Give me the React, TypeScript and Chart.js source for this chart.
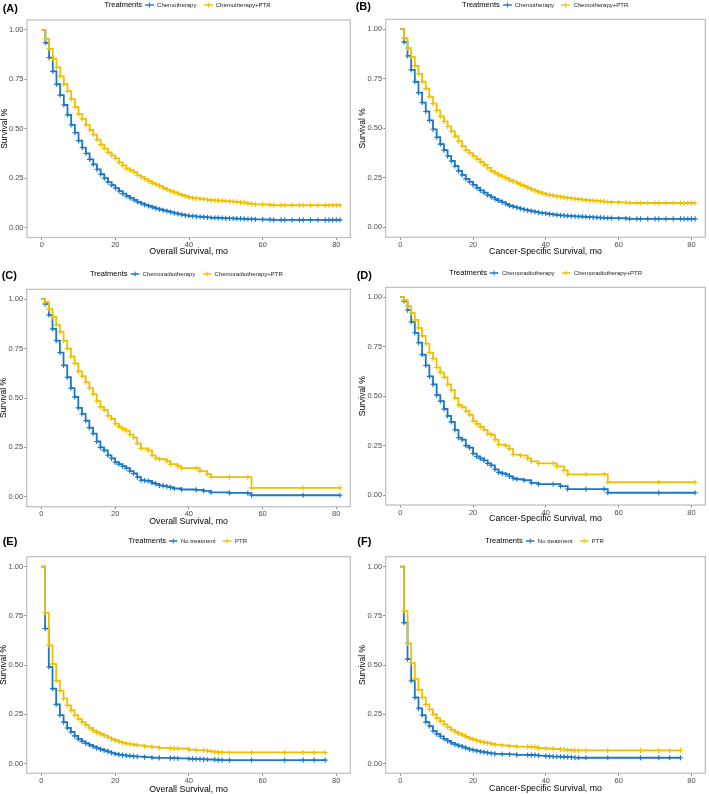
import React, { useEffect, useRef } from 'react';
import { Chart, registerables } from 'chart.js';
Chart.register(...registerables);

const FONT = "'Liberation Sans', Arial, Helvetica, sans-serif";
const BLUE = '#1a78c8';
const YELLOW = '#efc000';
const FRAME = '#bdbdbd';
const TICK = '#8a8a8a';

const xTickValues = [0, 20, 40, 60, 80];
const yTickValues = [0, 0.25, 0.5, 0.75, 1];

// ---------- (A) Overall survival: Chemotherapy vs Chemotherapy+PTR ----------
const aMonths = [0, 1, 2, 3, 4, 5, 6, 7, 8, 9, 10, 11, 12, 13, 14, 15, 16, 17, 18, 19, 20, 21, 22, 23, 24, 25, 26, 27, 28, 29, 30, 31, 32, 33, 34, 35, 36, 37, 38, 39, 40, 41, 42, 43, 44, 45, 46, 47, 48, 49, 50, 51, 52, 53, 54, 55, 56, 57, 58, 60, 62, 63, 65, 66, 68, 70, 71, 73, 75, 77, 78, 79, 80, 81];
const aChemo = [1, .935, .86, .79, .725, .67, .62, .57, .52, .48, .44, .405, .375, .345, .32, .295, .27, .25, .23, .215, .2, .185, .172, .16, .15, .14, .13, .123, .115, .11, .103, .097, .092, .087, .083, .078, .073, .069, .065, .062, .059, .058, .056, .055, .053, .052, .05, .05, .049, .048, .047, .047, .046, .045, .045, .044, .043, .043, .042, .041, .04, .039, .039, .039, .039, .039, .039, .039, .039, .039, .039, .039, .039, .039];
const aChemoPtr = [1, .955, .905, .855, .81, .765, .725, .69, .65, .61, .575, .55, .52, .495, .47, .445, .42, .4, .38, .365, .35, .33, .315, .3, .29, .28, .265, .255, .245, .235, .225, .218, .21, .2, .192, .185, .178, .17, .165, .158, .153, .15, .148, .146, .143, .141, .139, .138, .136, .135, .134, .133, .131, .13, .128, .126, .122, .12, .118, .117, .115, .113, .113, .113, .113, .113, .113, .113, .113, .113, .113, .113, .113, .113];

// ---------- (B) Cancer-specific survival: Chemotherapy vs Chemotherapy+PTR ----------
const bMonths = [0, 1, 2, 3, 4, 5, 6, 7, 8, 9, 10, 11, 12, 13, 14, 15, 16, 17, 18, 19, 20, 21, 22, 23, 24, 25, 26, 27, 28, 29, 30, 31, 32, 33, 34, 35, 36, 37, 38, 39, 40, 41, 42, 43, 44, 45, 46, 47, 48, 49, 50, 51, 52, 53, 54, 55, 56, 57, 58, 60, 62, 63, 65, 66, 68, 70, 71, 73, 75, 77, 78, 79, 80, 81];
const bChemo = [1, .935, .865, .795, .735, .68, .63, .585, .54, .495, .455, .42, .39, .36, .335, .31, .285, .265, .245, .23, .215, .2, .187, .175, .163, .153, .143, .135, .127, .118, .11, .105, .1, .095, .09, .086, .082, .078, .075, .072, .07, .067, .065, .063, .061, .059, .058, .057, .056, .055, .054, .053, .052, .051, .05, .049, .048, .047, .047, .046, .045, .043, .043, .043, .043, .043, .043, .043, .043, .043, .043, .043, .043, .043];
const bChemoPtr = [1, .955, .905, .86, .815, .775, .735, .7, .66, .625, .59, .56, .535, .51, .485, .46, .435, .41, .39, .375, .36, .345, .33, .315, .3, .285, .275, .265, .257, .248, .24, .232, .224, .216, .208, .2, .192, .185, .178, .172, .167, .163, .16, .157, .154, .151, .148, .146, .144, .142, .14, .138, .136, .135, .134, .132, .13, .128, .127, .126, .125, .123, .123, .123, .123, .123, .123, .123, .123, .123, .123, .123, .123, .123];

// ---------- (C) Overall survival: Chemoradiotherapy vs Chemoradiotherapy+PTR ----------
const cCrtMonths = [0, 1, 2, 3, 4, 5, 6, 7, 8, 9, 10, 11, 12, 13, 14, 15, 16, 17, 18, 19, 20, 21, 22, 23, 24, 25, 26, 27, 28, 29, 30, 31, 32, 33, 34, 35, 36, 38, 42, 44, 46, 51, 56, 57, 71, 81];
const cCrt = [1, .975, .92, .85, .79, .73, .665, .605, .55, .505, .45, .42, .385, .35, .32, .28, .25, .235, .21, .195, .175, .165, .155, .145, .13, .118, .1, .084, .082, .08, .07, .065, .058, .055, .052, .048, .042, .037, .035, .03, .022, .02, .018, .008, .008, .008];
const cCrtPtrMonths = [0, 1, 2, 3, 4, 5, 6, 7, 8, 9, 10, 11, 12, 13, 14, 15, 16, 17, 18, 19, 20, 21, 22, 23, 24, 25, 26, 27, 29, 30, 31, 32, 34, 35, 37, 38, 42, 43, 45, 46, 51, 56, 57, 71, 81];
const cCrtPtr = [1, .985, .95, .91, .87, .835, .79, .75, .71, .675, .635, .61, .58, .55, .52, .485, .455, .44, .41, .395, .37, .355, .345, .335, .315, .3, .27, .245, .235, .21, .195, .19, .18, .165, .155, .145, .145, .13, .115, .1, .1, .1, .045, .045, .045];

// ---------- (D) Cancer-specific survival: Chemoradiotherapy vs Chemoradiotherapy+PTR ----------
const dCrtMonths = [0, 1, 2, 3, 4, 5, 6, 7, 8, 9, 10, 11, 12, 13, 14, 15, 16, 17, 18, 19, 20, 21, 22, 23, 24, 25, 26, 27, 28, 29, 30, 31, 32, 34, 36, 38, 42, 44, 46, 51, 56, 57, 71, 81];
const dCrt = [1, .98, .935, .875, .82, .77, .71, .655, .6, .56, .505, .475, .435, .4, .37, .33, .29, .28, .25, .24, .21, .195, .185, .175, .16, .15, .13, .115, .11, .105, .095, .085, .08, .075, .062, .055, .055, .045, .03, .03, .03, .012, .012, .012];
const dCrtPtrMonths = [0, 1, 2, 3, 4, 5, 6, 7, 8, 9, 10, 11, 12, 13, 14, 15, 16, 17, 18, 19, 20, 21, 22, 23, 24, 25, 26, 27, 29, 30, 31, 33, 35, 36, 38, 42, 43, 45, 46, 51, 56, 57, 71, 81];
const dCrtPtr = [1, .985, .955, .92, .885, .845, .805, .765, .72, .69, .645, .62, .595, .56, .53, .49, .455, .445, .425, .405, .375, .36, .345, .33, .31, .305, .28, .255, .25, .235, .205, .2, .185, .17, .16, .16, .145, .125, .105, .105, .105, .065, .065, .065];

// ---------- (E) Overall survival: No treatment vs PTR ----------
const eNoTxMonths = [0, 1, 2, 3, 4, 5, 6, 7, 8, 9, 10, 11, 12, 13, 14, 15, 16, 17, 18, 19, 20, 21, 22, 23, 24, 25, 26, 28, 30, 32, 35, 36, 37, 40, 41, 42, 43, 44, 45, 47, 48, 49, 51, 57, 66, 71, 74, 77];
const eNoTx = [1, .685, .49, .38, .3, .245, .21, .18, .16, .14, .125, .112, .102, .094, .086, .078, .072, .066, .06, .054, .048, .045, .042, .04, .038, .036, .035, .032, .029, .028, .027, .027, .026, .024, .023, .022, .022, .021, .02, .019, .018, .017, .017, .017, .017, .017, .017, .017];
const ePtrMonths = [0, 1, 2, 3, 4, 5, 6, 7, 8, 9, 10, 11, 12, 13, 14, 15, 16, 17, 18, 19, 20, 21, 22, 23, 24, 25, 26, 28, 30, 32, 35, 36, 37, 40, 42, 44, 45, 46, 47, 48, 49, 51, 57, 66, 71, 74, 77];
const ePtr = [1, .765, .6, .505, .42, .37, .33, .295, .27, .245, .225, .21, .195, .18, .168, .158, .15, .142, .132, .124, .117, .11, .105, .101, .098, .095, .092, .087, .083, .079, .077, .077, .076, .07, .068, .066, .064, .061, .059, .057, .056, .056, .056, .056, .056, .056, .056];

// ---------- (F) Cancer-specific survival: No treatment vs PTR ----------
const fNoTxMonths = [0, 1, 2, 3, 4, 5, 6, 7, 8, 9, 10, 11, 12, 13, 14, 15, 16, 17, 18, 19, 20, 21, 22, 23, 24, 25, 26, 28, 30, 32, 35, 36, 37, 38, 40, 41, 42, 43, 44, 45, 46, 47, 48, 49, 51, 57, 66, 71, 74, 77];
const fNoTx = [1, .715, .53, .42, .335, .28, .245, .21, .19, .165, .15, .138, .125, .115, .105, .097, .09, .085, .078, .072, .068, .064, .06, .057, .054, .051, .049, .047, .046, .044, .043, .043, .042, .04, .037, .036, .035, .035, .034, .033, .032, .031, .03, .029, .029, .029, .029, .029, .029, .029];
const fPtrMonths = [0, 1, 2, 3, 4, 5, 6, 7, 8, 9, 10, 11, 12, 13, 14, 15, 16, 17, 18, 19, 20, 21, 22, 23, 24, 25, 26, 28, 30, 32, 35, 36, 37, 38, 40, 42, 44, 45, 46, 47, 48, 49, 51, 57, 66, 71, 74, 77];
const fPtr = [1, .775, .61, .51, .43, .375, .335, .3, .275, .25, .23, .215, .198, .185, .172, .16, .152, .145, .135, .128, .122, .116, .111, .107, .103, .099, .096, .092, .088, .085, .084, .084, .083, .078, .076, .074, .071, .07, .068, .067, .066, .066, .066, .066, .066, .066, .066, .066];

type PanelCfg = {
  tag: string;
  left: number; top: number; w: number; h: number;
  area: [number, number, number, number];
  labelX: number; labelY: number;
  legendCx: number; legendY: number;
  xTitle: string; xTitleBottom: number; yTitleLeft: number;
  baseName: string; ptrName: string;
  baseT: number[]; baseS: number[]; ptrT: number[]; ptrS: number[];
};

const OS = 'Overall Survival, mo';
const CSS = 'Cancer-Specific Survival, mo';

const panels: PanelCfg[] = [
  { tag: '(A)', left: 0, top: 0, w: 354, h: 260, area: [27, 20, 351, 237.5], labelX: 2.7, labelY: 7.5, legendCx: 187.5, legendY: 4.7, xTitle: OS, xTitleBottom: 8.3, yTitleLeft: 4.5, baseName: 'Chemotherapy', ptrName: 'Chemotherapy+PTR', baseT: aMonths, baseS: aChemo, ptrT: aMonths, ptrS: aChemoPtr },
  { tag: '(B)', left: 354, top: 0, w: 355, h: 260, area: [31.7, 19.3, 352.7, 237.3], labelX: 1.7, labelY: 5.5, legendCx: 191.2, legendY: 4.7, xTitle: CSS, xTitleBottom: 8.3, yTitleLeft: 8.3, baseName: 'Chemotherapy', ptrName: 'Chemotherapy+PTR', baseT: bMonths, baseS: bChemo, ptrT: bMonths, ptrS: bChemoPtr },
  { tag: '(C)', left: 0, top: 260, w: 354, h: 265, area: [26.7, 29.3, 351, 246.7], labelX: 1.7, labelY: 15.3, legendCx: 186.3, legendY: 14, xTitle: OS, xTitleBottom: 3.3, yTitleLeft: 3.7, baseName: 'Chemoradiotherapy', ptrName: 'Chemoradiotherapy+PTR', baseT: cCrtMonths, baseS: cCrt, ptrT: cCrtPtrMonths, ptrS: cCrtPtr },
  { tag: '(D)', left: 354, top: 260, w: 355, h: 265, area: [31.7, 27.3, 353, 245], labelX: 2.7, labelY: 15.3, legendCx: 191.7, legendY: 12.7, xTitle: CSS, xTitleBottom: 6.7, yTitleLeft: 8.7, baseName: 'Chemoradiotherapy', ptrName: 'Chemoradiotherapy+PTR', baseT: dCrtMonths, baseS: dCrt, ptrT: dCrtPtrMonths, ptrS: dCrtPtr },
  { tag: '(E)', left: 0, top: 525, w: 354, h: 269, area: [26.7, 31.7, 350.7, 248.3], labelX: 2.7, labelY: 15.7, legendCx: 187.7, legendY: 16, xTitle: OS, xTitleBottom: 4, yTitleLeft: 3.3, baseName: 'No treatment', ptrName: 'PTR', baseT: eNoTxMonths, baseS: eNoTx, ptrT: ePtrMonths, ptrS: ePtr },
  { tag: '(F)', left: 354, top: 525, w: 355, h: 269, area: [31.7, 31.7, 352.7, 248.3], labelX: 3.3, labelY: 15.7, legendCx: 190.5, legendY: 15.7, xTitle: CSS, xTitleBottom: 5.7, yTitleLeft: 8.3, baseName: 'No treatment', ptrName: 'PTR', baseT: fNoTxMonths, baseS: fNoTx, ptrT: fPtrMonths, ptrS: fPtr },
];

const framePlugin = {
  id: 'frame',
  afterDatasetsDraw(chart: any) {
    const { ctx, chartArea: a } = chart;
    ctx.save();
    ctx.strokeStyle = FRAME;
    ctx.lineWidth = 1.2;
    ctx.strokeRect(a.left, a.top, a.right - a.left, a.bottom - a.top);
    ctx.restore();
  },
};

const TICK_SIZE = 7.5;
const XT_SIZE = 8.8;
const YT_SIZE = 8.5;

function makeDataset(label: string, t: number[], s: number[], color: string) {
  return {
    label,
    data: t.map((x, i) => ({ x, y: s[i] })),
    borderColor: color,
    backgroundColor: color,
    borderWidth: 1.8,
    stepped: 'before' as const,
    fill: false,
    pointStyle: 'cross' as const,
    pointRadius: (c: any) => (c.dataIndex === 0 ? 0 : 2.6),
    pointBorderWidth: 1.1,
    pointBorderColor: color,
    pointHoverRadius: 0,
  };
}

function Marker({ color }: { color: string }) {
  return (
    <svg width={9} height={6} style={{ display: 'block' }}>
      <line x1={0} y1={3} x2={9} y2={3} stroke={color} strokeWidth={1.4} />
      <line x1={4.5} y1={0.5} x2={4.5} y2={5.5} stroke={color} strokeWidth={1} />
    </svg>
  );
}

function Panel({ cfg }: { cfg: PanelCfg }) {
  const ref = useRef<HTMLCanvasElement>(null);
  useEffect(() => {
    if (!ref.current) return;
    const [l, t, r, b] = cfg.area;
    const xh = cfg.h - b;
    const xLh = XT_SIZE * 1.2;
    const yLh = YT_SIZE * 1.2;
    const chart = new Chart(ref.current, {
      type: 'line',
      data: {
        datasets: [
          makeDataset(cfg.ptrName, cfg.ptrT, cfg.ptrS, YELLOW),
          makeDataset(cfg.baseName, cfg.baseT, cfg.baseS, BLUE),
        ] as any,
      },
      options: {
        responsive: false,
        animation: false,
        events: [],
        layout: { padding: { top: t, right: cfg.w - r, left: 0, bottom: 0 } },
        plugins: { legend: { display: false }, tooltip: { enabled: false } },
        scales: {
          x: {
            type: 'linear',
            min: -4,
            max: 83.8,
            afterBuildTicks: (s: any) => {
              s.ticks = xTickValues.map((v) => ({ value: v }));
            },
            afterFit: (s: any) => {
              s.height = xh;
            },
            grid: { display: true, drawOnChartArea: false, drawTicks: true, tickLength: 2.5, color: TICK, tickColor: TICK, lineWidth: 1 },
            border: { display: false },
            ticks: { font: { family: FONT, size: TICK_SIZE }, color: '#4d4d4d', padding: 0.5, maxRotation: 0, autoSkip: false, callback: (v: any) => String(v) },
            title: { display: true, text: cfg.xTitle, color: '#000', font: { family: FONT, size: XT_SIZE, lineHeight: 1.2 }, padding: { top: 0, bottom: cfg.xTitleBottom - xLh / 2 } },
          },
          y: {
            type: 'linear',
            min: -0.05,
            max: 1.05,
            afterBuildTicks: (s: any) => {
              s.ticks = yTickValues.map((v) => ({ value: v }));
            },
            afterFit: (s: any) => {
              s.width = l;
            },
            grid: { display: true, drawOnChartArea: false, drawTicks: true, tickLength: 2.5, color: TICK, tickColor: TICK, lineWidth: 1 },
            border: { display: false },
            ticks: { font: { family: FONT, size: TICK_SIZE }, color: '#4d4d4d', padding: 1, autoSkip: false, callback: (v: any) => Number(v).toFixed(2) },
            title: { display: true, text: 'Survival %', color: '#000', font: { family: FONT, size: YT_SIZE, lineHeight: 1.2 }, padding: { top: cfg.yTitleLeft - yLh / 2, bottom: 0 } },
          },
        },
      } as any,
      plugins: [framePlugin],
    });
    return () => chart.destroy();
  }, [cfg]);

  return (
    <div style={{ position: 'absolute', left: cfg.left, top: cfg.top, width: cfg.w, height: cfg.h }}>
      <canvas ref={ref} width={cfg.w} height={cfg.h} style={{ position: 'absolute', left: 0, top: 0, width: cfg.w, height: cfg.h }} />
      <div style={{ position: 'absolute', left: cfg.labelX, top: cfg.labelY - 6, height: 12, lineHeight: '12px', fontFamily: FONT, fontWeight: 'bold', fontSize: 11, color: '#000' }}>
        {cfg.tag}
      </div>
      <div style={{ position: 'absolute', left: cfg.legendCx, top: cfg.legendY - 5, height: 10, transform: 'translateX(-50%)', display: 'flex', alignItems: 'center', whiteSpace: 'nowrap', fontFamily: FONT }}>
        <span style={{ fontSize: 7.5, color: '#000', marginRight: 2.7, lineHeight: '10px' }}>Treatments</span>
        <Marker color={BLUE} />
        <span style={{ fontSize: 6, color: '#222', marginLeft: 3.3, marginRight: 7, lineHeight: '10px' }}>{cfg.baseName}</span>
        <Marker color={YELLOW} />
        <span style={{ fontSize: 6, color: '#222', marginLeft: 3.3, lineHeight: '10px' }}>{cfg.ptrName}</span>
      </div>
    </div>
  );
}

export default function App() {
  return (
    <div style={{ position: 'absolute', left: 0, top: 0, width: 709, height: 794, background: '#fff', overflow: 'hidden' }}>
      {panels.map((p) => (
        <Panel key={p.tag} cfg={p} />
      ))}
    </div>
  );
}
